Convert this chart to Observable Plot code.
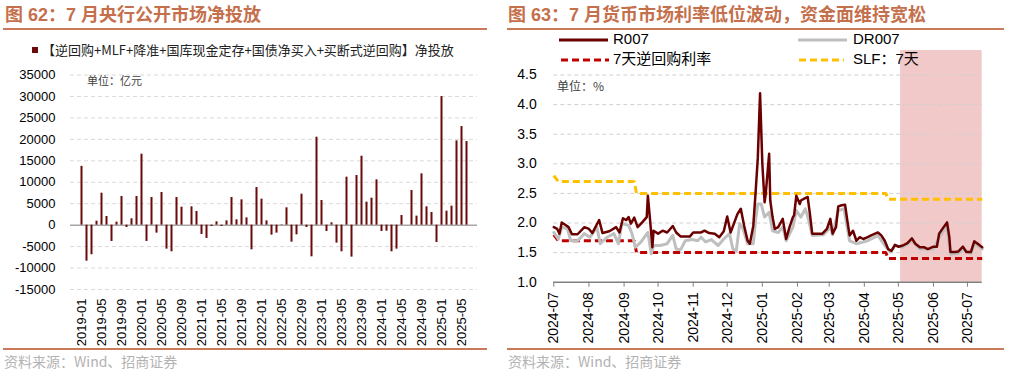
<!DOCTYPE html>
<html><head><meta charset="utf-8">
<script src="https://cdn.jsdelivr.net/npm/d3@7"></script>
<script src="https://cdn.jsdelivr.net/npm/@observablehq/plot@0.6"></script>
<style>
body{margin:0;background:#fff;}
#page{position:relative;width:1012px;height:375px;overflow:hidden;font-family:"Liberation Sans",Arial,"Noto Sans CJK SC",sans-serif;}
.abs{position:absolute;white-space:nowrap;z-index:2;}
.title{font-family:"Liberation Sans","Noto Sans CJK SC",sans-serif;font-weight:bold;font-size:18px;color:#c5704c;top:3px;line-height:24px;}
.rule{position:absolute;background:#c97a58;}
.src{font-family:"Noto Sans CJK SC",sans-serif;font-size:14px;color:#b3b3b3;top:351px;line-height:20px;}
.unit{font-family:"Noto Sans CJK SC",sans-serif;font-size:11px;color:#404040;line-height:14px;}
.leg{font-size:15px;color:#000;line-height:18px;font-family:"Liberation Sans","Noto Sans CJK SC",sans-serif;}
.chart{position:absolute;}
</style></head>
<body><div id="page">
<div class="abs title" style="left:5px;">图 62：7 月央行公开市场净投放</div>
<div class="abs title" style="left:508px;">图 63：7 月货币市场利率低位波动，资金面维持宽松</div>
<div class="rule" style="left:3px;width:484px;top:28px;height:2px;"></div>
<div class="rule" style="left:507px;width:497px;top:28px;height:2px;"></div>
<div class="rule" style="left:3px;width:484px;top:348px;height:1.5px;"></div>
<div class="rule" style="left:507px;width:497px;top:348px;height:1.5px;"></div>
<div class="abs src" style="left:4px;">资料来源：Wind、招商证券</div>
<div class="abs src" style="left:508px;">资料来源：Wind、招商证券</div>
<div id="left" class="chart" style="left:0;top:64px;"></div>
<div id="right" class="chart" style="left:500px;top:40px;"></div>
<div class="abs" style="left:32px;top:47px;width:6px;height:6px;background:#6b0a0a;"></div>
<div class="abs" style="left:42px;top:41px;font-family:'Noto Sans CJK SC',sans-serif;font-size:13px;color:#222;line-height:18px;">【逆回购+MLF+降准+国库现金定存+国债净买入+买断式逆回购】净投放</div>
<div class="abs unit" style="left:87px;top:73px;">单位：亿元</div>
<div class="abs unit" style="left:557px;top:79px;font-size:12px;">单位：%</div>
<svg class="abs" style="left:558px;top:36px;" width="52" height="8"><line x1="1" y1="4" x2="50" y2="4" stroke="#6b0000" stroke-width="3"/></svg>
<div class="abs leg" style="left:613px;top:30px;">R007</div>
<svg class="abs" style="left:797px;top:36px;" width="52" height="8"><line x1="1" y1="4" x2="50" y2="4" stroke="#bfbfbf" stroke-width="3"/></svg>
<div class="abs leg" style="left:853px;top:30px;">DR007</div>
<svg class="abs" style="left:560px;top:56px;" width="52" height="8"><line x1="1" y1="4" x2="49" y2="4" stroke="#c00000" stroke-width="3" stroke-dasharray="7,4"/></svg>
<div class="abs leg" style="left:613px;top:50px;">7天逆回购利率</div>
<svg class="abs" style="left:798px;top:56px;" width="52" height="8"><line x1="1" y1="4" x2="46" y2="4" stroke="#ffc000" stroke-width="3" stroke-dasharray="7,4"/></svg>
<div class="abs leg" style="left:853px;top:50px;">SLF：7天</div>
</div>
<script>
// ---------- Left chart data (亿元) ----------
const months = [
 "2019-01","2019-02","2019-03","2019-04","2019-05","2019-06","2019-07","2019-08","2019-09","2019-10","2019-11","2019-12",
 "2020-01","2020-02","2020-03","2020-04","2020-05","2020-06","2020-07","2020-08","2020-09","2020-10","2020-11","2020-12",
 "2021-01","2021-02","2021-03","2021-04","2021-05","2021-06","2021-07","2021-08","2021-09","2021-10","2021-11","2021-12",
 "2022-01","2022-02","2022-03","2022-04","2022-05","2022-06","2022-07","2022-08","2022-09","2022-10","2022-11","2022-12",
 "2023-01","2023-02","2023-03","2023-04","2023-05","2023-06","2023-07","2023-08","2023-09","2023-10","2023-11","2023-12",
 "2024-01","2024-02","2024-03","2024-04","2024-05","2024-06","2024-07","2024-08","2024-09","2024-10","2024-11","2024-12",
 "2025-01","2025-02","2025-03","2025-04","2025-05","2025-06"];
const netInjection = [
 13700,-8400,-6900,930,7450,2020,-3800,700,6680,-540,1475,6680,
 16540,-3800,6440,-1860,7610,-5590,-6210,6440,4190,0,4270,3180,
 -2170,-3100,-310,780,-300,1000,6440,1240,5900,1700,-5750,8770,
 6060,1000,-2330,-1860,-100,4040,-3960,-2250,7220,-540,-7380,20500,
 5750,-1475,540,-4190,-6210,11180,-7450,11570,16070,5360,6290,10560,
 -1475,-1400,-6210,-5590,2250,0,8070,2100,11960,4270,2950,-4040,
 29970,3260,4430,19640,22980,19490];
const leftTicks = ["2019-01","2019-05","2019-09","2020-01","2020-05","2020-09","2021-01","2021-05","2021-09",
 "2022-01","2022-05","2022-09","2023-01","2023-05","2023-09","2024-01","2024-05","2024-09","2025-01","2025-05"];
const leftYTicks = [-15000,-10000,-5000,0,5000,10000,15000,20000,25000,30000,35000];

// ---------- Right chart data (%) ----------
const r007 = [
 ["2024-07-01",1.93],["2024-07-04",1.90],["2024-07-06",1.82],["2024-07-08",2.01],["2024-07-11",1.97],["2024-07-14",1.93],["2024-07-17",1.81],["2024-07-22",1.81],["2024-07-28",1.93],
 ["2024-08-01",1.90],["2024-08-04",1.83],["2024-08-10",2.05],["2024-08-13",1.83],["2024-08-19",1.86],["2024-08-25",1.93],["2024-08-28",1.84],["2024-08-31",2.08],
 ["2024-09-03",2.05],["2024-09-05",2.10],["2024-09-07",1.99],["2024-09-10",2.09],["2024-09-13",1.93],["2024-09-17",2.01],["2024-09-21",2.10],["2024-09-22",2.46],["2024-09-24",2.04],["2024-09-26",1.59],["2024-09-27",1.87],
 ["2024-10-01",1.82],["2024-10-05",1.87],["2024-10-09",1.84],["2024-10-14",1.95],["2024-10-17",1.84],["2024-10-21",1.77],["2024-10-29",1.77],
 ["2024-11-01",1.84],["2024-11-08",1.84],["2024-11-11",1.87],["2024-11-15",1.83],["2024-11-20",1.82],["2024-11-24",1.76],["2024-11-28",1.86],
 ["2024-12-01",2.11],["2024-12-04",1.84],["2024-12-10",2.15],["2024-12-13",2.24],["2024-12-16",1.95],["2024-12-19",1.70],["2024-12-21",1.65],["2024-12-24",1.95],["2024-12-26",2.50],["2024-12-28",3.10],["2024-12-30",4.19],
 ["2025-01-01",3.00],["2025-01-03",2.35],["2025-01-04",2.49],["2025-01-07",3.17],["2025-01-08",2.38],["2025-01-10",2.10],["2025-01-12",1.90],["2025-01-15",1.93],["2025-01-19",2.07],["2025-01-22",1.73],["2025-01-25",1.93],["2025-01-28",2.10],["2025-01-29",2.13],["2025-01-31",2.46],
 ["2025-02-03",2.32],["2025-02-04",2.38],["2025-02-07",2.41],["2025-02-10",2.44],["2025-02-12",2.15],["2025-02-14",1.82],["2025-02-19",1.82],["2025-02-23",1.82],["2025-02-27",1.90],
 ["2025-03-02",2.07],["2025-03-04",1.82],["2025-03-07",1.93],["2025-03-09",2.28],["2025-03-12",2.30],["2025-03-15",2.31],["2025-03-17",2.04],["2025-03-19",1.79],["2025-03-22",1.87],["2025-03-25",1.70],["2025-03-28",1.76],["2025-03-31",1.73],
 ["2025-04-04",1.76],["2025-04-07",1.79],["2025-04-13",1.84],["2025-04-16",1.79],["2025-04-19",1.70],["2025-04-22",1.56],["2025-04-25",1.53],["2025-04-28",1.63],
 ["2025-05-01",1.60],["2025-05-05",1.62],["2025-05-09",1.66],["2025-05-13",1.74],["2025-05-16",1.65],["2025-05-20",1.59],["2025-05-24",1.59],["2025-05-27",1.56],
 ["2025-06-01",1.60],["2025-06-04",1.60],["2025-06-06",1.82],["2025-06-10",1.93],["2025-06-13",2.01],["2025-06-15",1.76],["2025-06-16",1.51],["2025-06-20",1.51],["2025-06-23",1.52],["2025-06-27",1.60],["2025-06-30",1.51],
 ["2025-07-04",1.51],["2025-07-07",1.69],["2025-07-10",1.65],["2025-07-14",1.59]];
const dr007 = [
 ["2024-07-01",1.84],["2024-07-05",1.73],["2024-07-08",1.93],["2024-07-13",1.90],["2024-07-16",1.70],["2024-07-22",1.70],["2024-07-28",1.82],
 ["2024-08-02",1.76],["2024-08-08",1.93],["2024-08-11",1.65],["2024-08-17",1.76],["2024-08-23",1.82],["2024-08-27",1.65],["2024-08-30",1.99],
 ["2024-09-05",1.96],["2024-09-08",1.82],["2024-09-11",1.59],["2024-09-16",1.68],["2024-09-22",1.84],["2024-09-25",1.48],["2024-09-27",1.62],
 ["2024-10-03",1.62],["2024-10-09",1.65],["2024-10-14",1.79],["2024-10-17",1.56],["2024-10-21",1.55],["2024-10-25",1.70],["2024-10-31",1.72],
 ["2024-11-05",1.70],["2024-11-08",1.76],["2024-11-12",1.68],["2024-11-17",1.72],["2024-11-23",1.62],["2024-11-28",1.73],
 ["2024-12-03",1.82],["2024-12-06",1.56],["2024-12-09",1.53],["2024-12-12",1.99],["2024-12-15",1.90],["2024-12-19",1.65],["2024-12-24",1.65],["2024-12-26",2.04],["2024-12-28",2.32],["2024-12-31",2.32],
 ["2025-01-03",2.10],["2025-01-07",2.18],["2025-01-10",1.87],["2025-01-15",1.84],["2025-01-19",1.93],["2025-01-22",1.70],["2025-01-28",1.93],["2025-01-31",2.21],
 ["2025-02-04",2.10],["2025-02-08",2.24],["2025-02-11",2.04],["2025-02-14",1.79],["2025-02-24",1.80],
 ["2025-03-02",1.93],["2025-03-04",1.80],["2025-03-09",2.21],["2025-03-14",2.24],["2025-03-19",1.70],["2025-03-25",1.65],
 ["2025-04-04",1.70],["2025-04-13",1.79],["2025-04-19",1.62],["2025-04-24",1.51],["2025-04-28",1.62],
 ["2025-05-05",1.59],["2025-05-13",1.70],["2025-05-20",1.56],
 ["2025-06-01",1.56],["2025-06-06",1.75],["2025-06-10",1.87],["2025-06-13",1.93],["2025-06-16",1.47],["2025-06-23",1.49],["2025-06-27",1.56],
 ["2025-07-04",1.48],["2025-07-07",1.65],["2025-07-14",1.56]];
const reverseRepo7d = [["2024-07-01",1.8],["2024-07-05",1.7],["2024-09-10",1.7],["2024-09-12",1.5],["2025-04-20",1.5],["2025-04-22",1.4],["2025-07-14",1.4]];
const slf7d = [["2024-07-01",2.8],["2024-07-05",2.7],["2024-09-10",2.7],["2024-09-12",2.5],["2025-04-20",2.5],["2025-04-22",2.4],["2025-07-14",2.4]];
const shadePeriods = [{start: "2025-05-03", end: "2025-07-14"}];
const rightTicks = ["2024-07-01","2024-08-01","2024-09-01","2024-10-01","2024-11-01","2024-12-01","2025-01-01",
 "2025-02-01","2025-03-01","2025-04-01","2025-05-01","2025-06-01","2025-07-01"];
const rightYTicks = [1.0,1.5,2.0,2.5,3.0,3.5,4.0,4.5];
const rightDomain = ["2024-07-01","2025-07-14"];

// ---------- build ----------
const FONT = "Liberation Sans, Arial, sans-serif";
const leftData = months.map((m, i) => ({month: m, value: netInjection[i]}));

const leftChart = Plot.plot({
  width: 490, height: 286,
  marginLeft: 70, marginRight: 13, marginTop: 10.5, marginBottom: 61,
  style: {background: "transparent", overflow: "visible", fontFamily: FONT},
  x: {type: "band", domain: months, padding: 0, axis: null},
  y: {domain: [-15000, 35000], axis: null},
  marks: [
    Plot.gridY(leftYTicks.filter(d => d !== 0), {stroke: "#d9d9d9", strokeOpacity: 1, strokeWidth: 1, strokeDasharray: "4,3"}),
    Plot.ruleY([0], {stroke: "#a6a6a6", strokeWidth: 1.5}),
    Plot.barY(leftData, {x: "month", y: "value", fill: "#6b0a0a", insetLeft: 1.5, insetRight: 1.5}),
    Plot.axisY({ticks: leftYTicks, tickSize: 0, tickPadding: 15, fontSize: 13, color: "#000", label: null, tickFormat: d => String(d)}),
    Plot.axisX({ticks: leftTicks, tickSize: 0, tickPadding: 9, tickRotate: -90, fontSize: 13, color: "#000", label: null})
  ]
});
document.getElementById("left").append(leftChart);

const P = d3.utcParse("%Y-%m-%d");
const toPts = arr => arr.map(([d, v]) => ({date: P(d), value: v}));

const rightChart = Plot.plot({
  width: 512, height: 310,
  marginLeft: 53.3, marginRight: 30.3, marginTop: 34.5, marginBottom: 68.3,
  style: {background: "transparent", overflow: "visible", fontFamily: FONT},
  x: {type: "utc", domain: rightDomain.map(P), axis: null},
  y: {domain: [1, 4.5], axis: null},
  marks: [
    Plot.rect(shadePeriods, {x1: d => P(d.start), x2: d => P(d.end), fill: "#f2c9c9", insetTop: -24.5}),
    Plot.gridY(rightYTicks.filter(d => d > 1), {stroke: "#d0d0d0", strokeOpacity: 1, strokeWidth: 1, strokeDasharray: "4,3"}),
    Plot.line(toPts(slf7d), {x: "date", y: "value", stroke: "#ffc000", strokeWidth: 3, strokeDasharray: "7,4", strokeLinecap: "butt", strokeLinejoin: "miter"}),
    Plot.line(toPts(reverseRepo7d), {x: "date", y: "value", stroke: "#c00000", strokeWidth: 3, strokeDasharray: "7,4", strokeLinecap: "butt", strokeLinejoin: "miter"}),
    Plot.line(toPts(dr007), {x: "date", y: "value", stroke: "#bfbfbf", strokeWidth: 3}),
    Plot.line(toPts(r007), {x: "date", y: "value", stroke: "#6b0000", strokeWidth: 2.5}),
    Plot.ruleY([1], {stroke: "#808080", strokeWidth: 1.5}),
    Plot.axisY({ticks: rightYTicks, tickSize: 0, tickPadding: 17, fontSize: 14, color: "#000", label: null, tickFormat: d3.format(".1f")}),
    Plot.axisX({ticks: rightTicks.map(P), tickSize: 5, tickPadding: 5, tickRotate: -90, fontSize: 14, stroke: "#808080", fill: "#000", label: null, tickFormat: d3.utcFormat("%Y-%m")})
  ]
});
document.getElementById("right").append(rightChart);
</script>
</body></html>
